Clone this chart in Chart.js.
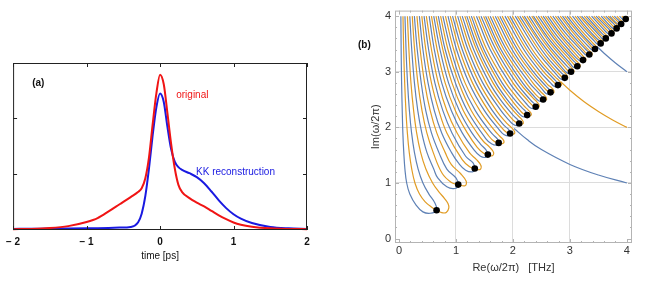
<!DOCTYPE html>
<html>
<head>
<meta charset="utf-8">
<script src="https://cdn.jsdelivr.net/npm/chart.js@4.4.1/dist/chart.umd.min.js"></script>
<style>
  html, body { margin: 0; padding: 0; background: #fff; }
  #wrap { position: relative; width: 654px; height: 281px; overflow: hidden; }
  canvas { position: absolute; top: 0; }
</style>
</head>
<body>
<div id="wrap">
  <canvas id="pulse" width="330" height="281" style="left:0px"></canvas>
  <canvas id="poles" width="314" height="281" style="left:340px"></canvas>
</div>
<script>
// ---- panel (a): pulse in time ----
const timePs = [-2, -1.75, -1.5, -1.25, -1, -0.85, -0.7, -0.55, -0.4, -0.3, -0.25, -0.2, -0.15, -0.1, -0.05, 0,
  0.05, 0.1, 0.15, 0.2, 0.25, 0.3, 0.4, 0.5, 0.6, 0.7, 0.8, 0.9, 1.0, 1.1, 1.25, 1.5, 1.75, 2];
const original = [0, 0.005, 0.02, 0.055, 0.13, 0.2, 0.32, 0.45, 0.58, 0.67, 0.74, 0.92, 1.3, 1.9, 2.45, 2.79,
  2.62, 2.1, 1.55, 1.1, 0.8, 0.67, 0.56, 0.48, 0.41, 0.33, 0.25, 0.18, 0.12, 0.08, 0.045, 0.015, 0.004, 0];
const kkRecon = [0.005, 0.007, 0.01, 0.012, 0.015, 0.018, 0.022, 0.028, 0.04, 0.12, 0.28, 0.6, 1.1, 1.7, 2.2, 2.45,
  2.3, 1.85, 1.45, 1.22, 1.12, 1.07, 1.01, 0.94, 0.83, 0.68, 0.52, 0.38, 0.27, 0.19, 0.11, 0.04, 0.015, 0.005];
const timeTicks = [-2, -1, 0, 1, 2];
const ampTicks = [1, 2];

// ---- panel (b): zeros and contour lines in the complex frequency plane ----
const zeroRe = [0.66, 1.04, 1.33, 1.56, 1.75, 1.95, 2.11, 2.25, 2.40, 2.53, 2.66, 2.79,
  2.91, 3.02, 3.13, 3.23, 3.34, 3.44, 3.54, 3.63, 3.73, 3.82, 3.90, 3.98];
const zeroIm = [0.51, 0.97, 1.26, 1.51, 1.72, 1.89, 2.07, 2.22, 2.37, 2.50, 2.63, 2.76,
  2.89, 3.00, 3.10, 3.21, 3.31, 3.41, 3.51, 3.60, 3.69, 3.78, 3.86, 3.95];

const blueLoops = [
  [[0.033,4],[0.038,3.4],[0.046,2.8],[0.057,2.3],[0.068,1.9],[0.084,1.55],[0.104,1.25],[0.135,1.0],[0.19,0.8],[0.3,0.6],[0.42,0.48],[0.55,0.455],[0.66,0.51],[0.63,0.64],[0.525,0.8],[0.42,1.0],[0.336,1.25],[0.271,1.55],[0.221,1.9],[0.183,2.3],[0.15,2.8],[0.124,3.4],[0.105,4]],
  [[0.19,4],[0.224,3.4],[0.271,2.8],[0.33,2.3],[0.40,1.9],[0.49,1.55],[0.61,1.25],[0.68,1.09],[0.84,0.93],[0.98,0.90],[1.04,0.97],[1.00,1.09],[0.84,1.25],[0.70,1.55],[0.57,1.9],[0.47,2.3],[0.39,2.8],[0.32,3.4],[0.27,4]],
  [[0.358,4],[0.42,3.4],[0.51,2.8],[0.62,2.3],[0.75,1.9],[0.92,1.55],[1.05,1.35],[1.17,1.23],[1.29,1.20],[1.33,1.26],[1.30,1.36],[1.17,1.48],[0.93,1.9],[0.77,2.3],[0.63,2.8],[0.52,3.4],[0.44,4]],
  [[0.53,4],[0.62,3.4],[0.75,2.8],[0.92,2.3],[1.11,1.9],[1.32,1.59],[1.43,1.48],[1.52,1.46],[1.56,1.51],[1.53,1.59],[1.43,1.70],[1.28,1.9],[1.06,2.3],[0.87,2.8],[0.72,3.4],[0.61,4]],
  [[0.69,4],[0.81,3.4],[0.99,2.8],[1.20,2.3],[1.53,1.79],[1.63,1.70],[1.72,1.68],[1.75,1.72],[1.73,1.79],[1.63,1.89],[1.34,2.3],[1.10,2.8],[0.91,3.4],[0.77,4]],
  [[0.86,4],[1.01,3.4],[1.23,2.8],[1.50,2.3],[1.76,1.955],[1.84,1.87],[1.92,1.85],[1.95,1.89],[1.93,1.955],[1.84,2.04],[1.64,2.3],[1.35,2.8],[1.11,3.4],[0.94,4]],
  [[1.03,4],[1.21,3.4],[1.47,2.8],[1.79,2.3],[1.93,2.13],[2.01,2.05],[2.08,2.03],[2.11,2.07],[2.09,2.13],[2.01,2.21],[1.78,2.5],[1.59,2.8],[1.31,3.4],[1.11,4]],
  [[1.19,4],[1.40,3.4],[1.70,2.8],[1.90,2.5],[2.08,2.28],[2.16,2.20],[2.22,2.19],[2.25,2.22],[2.23,2.28],[2.16,2.35],[2.03,2.5],[1.81,2.8],[1.49,3.4],[1.27,4]],
  [[1.36,4],[1.60,3.4],[1.94,2.8],[2.24,2.42],[2.31,2.35],[2.375,2.34],[2.40,2.37],[2.38,2.42],[2.31,2.49],[2.06,2.8],[1.70,3.4],[1.44,4]],
  [[1.52,4],[1.79,3.4],[2.17,2.8],[2.38,2.55],[2.45,2.48],[2.51,2.47],[2.53,2.50],[2.51,2.55],[2.45,2.62],[2.29,2.8],[1.885,3.4],[1.60,4]],
  [[1.69,4],[1.985,3.4],[2.25,3.0],[2.52,2.68],[2.58,2.61],[2.64,2.60],[2.66,2.63],[2.64,2.68],[2.58,2.74],[2.36,3.0],[2.08,3.4],[1.77,4]],
  [[1.86,4],[2.19,3.4],[2.48,3.0],[2.66,2.80],[2.72,2.74],[2.77,2.73],[2.79,2.76],[2.78,2.80],[2.72,2.87],[2.51,3.1],[2.29,3.4],[1.945,4]],
  [[2.04,4],[2.40,3.4],[2.60,3.14],[2.78,2.93],[2.84,2.87],[2.89,2.86],[2.91,2.89],[2.90,2.93],[2.84,2.99],[2.66,3.19],[2.50,3.4],[2.12,4]],
  [[2.20,4],[2.52,3.5],[2.89,3.04],[2.95,2.98],[3.00,2.975],[3.02,3.00],[3.01,3.04],[2.95,3.10],[2.61,3.5],[2.285,4]],
  [[2.36,4],[2.625,3.6],[3.01,3.14],[3.06,3.08],[3.11,3.08],[3.13,3.10],[3.12,3.14],[3.06,3.20],[2.72,3.6],[2.445,4]],
  [[2.53,4],[2.77,3.65],[3.11,3.25],[3.17,3.20],[3.21,3.19],[3.23,3.21],[3.22,3.25],[3.17,3.30],[2.86,3.65],[2.61,4]],
  [[2.70,4],[2.92,3.7],[3.23,3.35],[3.28,3.30],[3.32,3.29],[3.34,3.31],[3.33,3.35],[3.28,3.40],[3.01,3.7],[2.785,4]],
  [[2.87,4],[3.06,3.75],[3.33,3.45],[3.38,3.40],[3.42,3.39],[3.44,3.41],[3.43,3.45],[3.38,3.49],[3.15,3.75],[2.95,4]],
  [[3.045,4],[3.205,3.8],[3.43,3.55],[3.48,3.50],[3.52,3.49],[3.54,3.51],[3.53,3.55],[3.48,3.59],[3.29,3.8],[3.13,4]],
  [[3.205,4],[3.53,3.64],[3.57,3.59],[3.61,3.58],[3.63,3.60],[3.62,3.64],[3.57,3.68],[3.29,4]],
  [[3.38,4],[3.63,3.72],[3.68,3.68],[3.72,3.67],[3.73,3.69],[3.72,3.72],[3.68,3.77],[3.46,4]],
  [[3.55,4],[3.72,3.81],[3.77,3.77],[3.80,3.76],[3.82,3.78],[3.81,3.81],[3.77,3.86],[3.63,4]],
  [[3.70,4],[3.80,3.89],[3.85,3.85],[3.89,3.84],[3.90,3.86],[3.89,3.89],[3.85,3.93],[3.78,4]],
  [[3.87,4],[3.93,3.94],[3.97,3.93],[3.98,3.95],[3.95,4]]
];

const orangeLoops = [
  [[0.07,4],[0.082,3.4],[0.1,2.8],[0.122,2.3],[0.147,1.9],[0.18,1.55],[0.224,1.25],[0.28,1.0],[0.36,0.8],[0.46,0.66],[0.58,0.56],[0.66,0.51],[0.75,0.465],[0.83,0.47],[0.875,0.55],[0.86,0.63],[0.8,0.72],[0.7,0.84],[0.59,1.0],[0.472,1.25],[0.38,1.55],[0.31,1.9],[0.257,2.3],[0.21,2.8],[0.174,3.4],[0.148,4]],
  [[0.233,4],[0.274,3.4],[0.332,2.8],[0.404,2.3],[0.489,1.9],[0.60,1.55],[0.76,1.17],[0.92,1.01],[1.04,0.97],[1.16,0.95],[1.18,1.03],[1.08,1.17],[0.92,1.33],[0.81,1.55],[0.663,1.9],[0.548,2.3],[0.45,2.8],[0.371,3.4],[0.315,4]],
  [[0.40,4],[0.47,3.4],[0.57,2.8],[0.70,2.3],[0.84,1.9],[1.11,1.42],[1.24,1.29],[1.33,1.26],[1.42,1.24],[1.44,1.31],[1.36,1.42],[1.24,1.54],[1.02,1.9],[0.84,2.3],[0.69,2.8],[0.57,3.4],[0.48,4]],
  [[0.57,4],[0.67,3.4],[0.81,2.8],[0.99,2.3],[1.20,1.9],[1.37,1.645],[1.48,1.54],[1.56,1.51],[1.64,1.49],[1.66,1.55],[1.59,1.645],[1.48,1.75],[1.37,1.9],[1.13,2.3],[0.93,2.8],[0.77,3.4],[0.65,4]],
  [[0.73,4],[0.86,3.4],[1.05,2.8],[1.27,2.3],[1.58,1.84],[1.68,1.74],[1.75,1.72],[1.82,1.71],[1.84,1.76],[1.77,1.84],[1.68,1.94],[1.42,2.3],[1.16,2.8],[0.96,3.4],[0.815,4]],
  [[0.90,4],[1.06,3.4],[1.29,2.8],[1.57,2.3],[1.80,2.0],[1.885,1.91],[1.95,1.89],[2.02,1.88],[2.03,1.92],[1.97,2.0],[1.885,2.08],[1.71,2.3],[1.41,2.8],[1.16,3.4],[0.985,4]],
  [[1.07,4],[1.26,3.4],[1.53,2.8],[1.75,2.45],[1.97,2.17],[2.05,2.09],[2.11,2.07],[2.17,2.06],[2.18,2.10],[2.13,2.17],[2.05,2.25],[1.85,2.5],[1.65,2.8],[1.36,3.4],[1.155,4]],
  [[1.23,4],[1.45,3.4],[1.76,2.8],[1.97,2.5],[2.12,2.31],[2.19,2.24],[2.25,2.22],[2.31,2.21],[2.32,2.25],[2.27,2.31],[2.19,2.39],[2.06,2.55],[1.875,2.8],[1.54,3.4],[1.31,4]],
  [[1.40,4],[1.65,3.4],[2.00,2.8],[2.28,2.46],[2.35,2.39],[2.40,2.37],[2.45,2.36],[2.46,2.40],[2.42,2.46],[2.35,2.53],[2.12,2.8],[1.75,3.4],[1.485,4]],
  [[1.56,4],[1.84,3.4],[2.23,2.8],[2.41,2.58],[2.48,2.52],[2.53,2.50],[2.58,2.49],[2.59,2.53],[2.55,2.58],[2.48,2.65],[2.35,2.8],[1.935,3.4],[1.645,4]],
  [[1.73,4],[2.035,3.4],[2.31,3.0],[2.55,2.71],[2.61,2.65],[2.66,2.63],[2.71,2.62],[2.72,2.655],[2.68,2.71],[2.61,2.77],[2.42,3.0],[2.13,3.4],[1.81,4]],
  [[1.905,4],[2.24,3.4],[2.54,3.0],[2.69,2.84],[2.75,2.78],[2.79,2.76],[2.84,2.75],[2.85,2.78],[2.81,2.84],[2.75,2.90],[2.565,3.1],[2.34,3.4],[1.99,4]],
  [[2.08,4],[2.45,3.4],[2.64,3.15],[2.81,2.96],[2.87,2.90],[2.91,2.89],[2.96,2.88],[2.96,2.91],[2.93,2.96],[2.87,3.02],[2.70,3.21],[2.55,3.4],[2.165,4]],
  [[2.245,4],[2.57,3.5],[2.92,3.07],[2.98,3.01],[3.02,3.00],[3.06,2.99],[3.07,3.02],[3.03,3.07],[2.98,3.13],[2.66,3.5],[2.33,4]],
  [[2.405,4],[2.67,3.6],[3.04,3.17],[3.09,3.11],[3.13,3.10],[3.17,3.09],[3.18,3.12],[3.14,3.17],[3.09,3.22],[2.76,3.6],[2.49,4]],
  [[2.57,4],[2.82,3.65],[3.14,3.27],[3.19,3.22],[3.23,3.21],[3.27,3.20],[3.28,3.23],[3.24,3.27],[3.19,3.33],[2.91,3.65],[2.655,4]],
  [[2.745,4],[2.97,3.7],[3.25,3.37],[3.30,3.32],[3.34,3.31],[3.38,3.30],[3.39,3.33],[3.35,3.37],[3.30,3.42],[3.06,3.7],[2.83,4]],
  [[2.91,4],[3.11,3.75],[3.36,3.47],[3.40,3.42],[3.44,3.41],[3.48,3.40],[3.48,3.43],[3.45,3.47],[3.40,3.52],[3.195,3.75],[2.995,4]],
  [[3.09,4],[3.25,3.8],[3.46,3.57],[3.50,3.52],[3.54,3.51],[3.58,3.50],[3.58,3.53],[3.55,3.57],[3.50,3.62],[3.34,3.8],[3.17,4]],
  [[3.25,4],[3.55,3.66],[3.60,3.61],[3.63,3.60],[3.67,3.59],[3.67,3.62],[3.64,3.66],[3.60,3.70],[3.33,4]],
  [[3.42,4],[3.65,3.75],[3.70,3.70],[3.73,3.69],[3.76,3.68],[3.77,3.71],[3.74,3.75],[3.70,3.79],[3.50,4]],
  [[3.59,4],[3.74,3.84],[3.79,3.79],[3.82,3.78],[3.85,3.77],[3.86,3.80],[3.83,3.84],[3.79,3.88],[3.67,4]],
  [[3.74,4],[3.83,3.91],[3.87,3.87],[3.90,3.86],[3.93,3.85],[3.94,3.88],[3.91,3.91],[3.87,3.95],[3.825,4]],
  [[3.91,4],[3.96,3.96],[3.98,3.95],[4.01,3.94],[4.02,3.97],[3.99,4]]
];

// branches that leave through the right edge
const blueTails = [
  [[2.02,1.98],[2.25,1.78],[2.5,1.6],[3.0,1.333],[3.5,1.143],[4.0,1.0]],
  [[3.47,3.46],[3.6,3.333],[3.8,3.158],[4.0,3.0]]
];
const orangeTails = [
  [[2.84,2.82],[3.0,2.667],[3.25,2.46],[3.5,2.286],[3.75,2.133],[4.0,2.0]]
];
const freqTicks = [0, 1, 2, 3, 4];

const FONT = "'Liberation Sans', Arial, Helvetica, sans-serif";
const BLUE = '#5e81b5';
const ORANGE = '#e19c24';

const xy = pts => pts.map(([x, y]) => ({x, y}));

// frame with inward ticks and the text labels of panel (a)
const pulseDecor = {
  id: 'pulseDecor',
  afterDraw(chart) {
    const {ctx, chartArea: a, scales: {x, y}} = chart;
    ctx.save();
    ctx.strokeStyle = '#222';
    ctx.lineWidth = 1;
    ctx.strokeRect(a.left + 0.5, a.top + 0.5, a.right - a.left - 1, a.bottom - a.top - 1);
    ctx.beginPath();
    timeTicks.forEach(v => {
      const px = Math.round(x.getPixelForValue(v)) + 0.5;
      ctx.moveTo(px, a.bottom); ctx.lineTo(px, a.bottom - 4);
      ctx.moveTo(px, a.top); ctx.lineTo(px, a.top + 4);
    });
    ampTicks.forEach(v => {
      const py = Math.round(y.getPixelForValue(v)) + 0.5;
      ctx.moveTo(a.left, py); ctx.lineTo(a.left + 4, py);
      ctx.moveTo(a.right, py); ctx.lineTo(a.right - 4, py);
    });
    ctx.stroke();

    ctx.textBaseline = 'middle';
    ctx.textAlign = 'left';
    ctx.font = 'bold 10px ' + FONT;
    ctx.fillStyle = '#111';
    ctx.fillText('(a)', x.getPixelForValue(-1.74), y.getPixelForValue(2.63));
    ctx.font = '10px ' + FONT;
    ctx.fillStyle = 'rgb(240,20,20)';
    ctx.fillText('original', x.getPixelForValue(0.22), y.getPixelForValue(2.41));
    ctx.fillStyle = 'rgb(25,25,225)';
    ctx.fillText('KK reconstruction', x.getPixelForValue(0.49), y.getPixelForValue(1.02));
    ctx.restore();
  }
};

new Chart(document.getElementById('pulse'), {
  type: 'scatter',
  data: {
    datasets: [
      {
        label: 'original',
        data: timePs.map((t, i) => ({x: t, y: original[i]})),
        showLine: true, borderColor: 'rgb(240,20,20)', borderWidth: 2,
        pointRadius: 0, cubicInterpolationMode: 'monotone', clip: 4
      },
      {
        label: 'KK reconstruction',
        data: timePs.map((t, i) => ({x: t, y: kkRecon[i]})),
        showLine: true, borderColor: 'rgb(25,25,225)', borderWidth: 2,
        pointRadius: 0, cubicInterpolationMode: 'monotone', clip: 4
      }
    ]
  },
  options: {
    responsive: false,
    animation: false,
    layout: {padding: {left: 12, right: 23, top: 63, bottom: 19}},
    plugins: {legend: {display: false}, tooltip: {enabled: false}},
    scales: {
      x: {
        type: 'linear', min: -2, max: 2,
        afterBuildTicks: s => { s.ticks = timeTicks.map(v => ({value: v})); },
        afterFit: s => { s.height = 32; },
        grid: {display: false, drawTicks: false},
        border: {display: false},
        ticks: {
          padding: 6, color: '#111',
          font: {family: FONT, size: 10, weight: 'bold'},
          callback: v => v < 0 ? '\u2212 ' + Math.abs(v) : String(v)
        },
        title: {display: true, text: 'time [ps]', color: '#111',
          font: {family: FONT, size: 10}, padding: {top: 0, bottom: 0}}
      },
      y: {type: 'linear', display: false, min: -0.015, max: 3}
    }
  },
  plugins: [pulseDecor]
});

// frame with minor ticks and the panel label of (b)
const polesDecor = {
  id: 'polesDecor',
  afterDraw(chart) {
    const {ctx, chartArea: a, scales: {x, y}} = chart;
    ctx.save();
    ctx.strokeStyle = '#b4b4b4';
    ctx.lineWidth = 1;
    ctx.strokeRect(a.left + 0.5, a.top + 0.5, a.right - a.left - 1, a.bottom - a.top - 1);
    ctx.beginPath();
    for (let k = 0; k <= 20; k++) {
      const v = k / 5;
      const len = k % 5 === 0 ? 4 : 2;
      const px = Math.round(x.getPixelForValue(v)) + 0.5;
      ctx.moveTo(px, a.bottom); ctx.lineTo(px, a.bottom - len);
      ctx.moveTo(px, a.top); ctx.lineTo(px, a.top + len);
      const py = Math.round(y.getPixelForValue(v)) + 0.5;
      ctx.moveTo(a.left, py); ctx.lineTo(a.left + len, py);
      ctx.moveTo(a.right, py); ctx.lineTo(a.right - len, py);
    }
    ctx.stroke();
    ctx.font = 'bold 10px ' + FONT;
    ctx.fillStyle = '#111';
    ctx.textBaseline = 'middle';
    ctx.textAlign = 'left';
    ctx.fillText('(b)', x.getPixelForValue(-0.72), y.getPixelForValue(3.48));
    ctx.restore();
  }
};

const poleSets = [{
  label: 'zeros',
  data: zeroRe.map((re, i) => ({x: re, y: zeroIm[i]})),
  pointRadius: 3.3, pointBackgroundColor: '#000', pointBorderWidth: 0,
  showLine: false, order: 0
}];
blueLoops.concat(blueTails).forEach(c => poleSets.push({
  data: xy(c), showLine: true, borderColor: BLUE, borderWidth: 1.2,
  pointRadius: 0, tension: 0.4, order: 2
}));
orangeLoops.concat(orangeTails).forEach(c => poleSets.push({
  data: xy(c), showLine: true, borderColor: ORANGE, borderWidth: 1.2,
  pointRadius: 0, tension: 0.4, order: 1
}));

const gridColor = ctx => (ctx.tick && ctx.tick.value > 0 && ctx.tick.value < 4) ? '#dcdcdc' : 'rgba(0,0,0,0)';

new Chart(document.getElementById('poles'), {
  type: 'scatter',
  data: {datasets: poleSets},
  options: {
    responsive: false,
    animation: false,
    layout: {padding: {left: 29, right: 22, top: 5, bottom: 6}},
    plugins: {legend: {display: false}, tooltip: {enabled: false}},
    scales: {
      x: {
        type: 'linear', min: -0.07, max: 4.09,
        afterBuildTicks: s => { s.ticks = freqTicks.map(v => ({value: v})); },
        afterFit: s => { s.height = 32; },
        grid: {color: gridColor, drawTicks: false, lineWidth: 1},
        border: {display: false},
        ticks: {padding: 1, color: '#333', font: {family: FONT, size: 11}},
        title: {display: true, text: 'Re(\u03c9/2\u03c0)   [THz]', color: '#333',
          font: {family: FONT, size: 11}, padding: {top: 0, bottom: 0}}
      },
      y: {
        type: 'linear', min: -0.08, max: 4.1,
        afterBuildTicks: s => { s.ticks = freqTicks.map(v => ({value: v})); },
        afterFit: s => { s.width = 26; },
        grid: {color: gridColor, drawTicks: false, lineWidth: 1},
        border: {display: false},
        ticks: {padding: 4, color: '#333', font: {family: FONT, size: 11}},
        title: {display: true, text: 'Im(\u03c9/2\u03c0)', color: '#333',
          font: {family: FONT, size: 11}, padding: {top: 0, bottom: 0}}
      }
    }
  },
  plugins: [polesDecor]
});
</script>
</body>
</html>
